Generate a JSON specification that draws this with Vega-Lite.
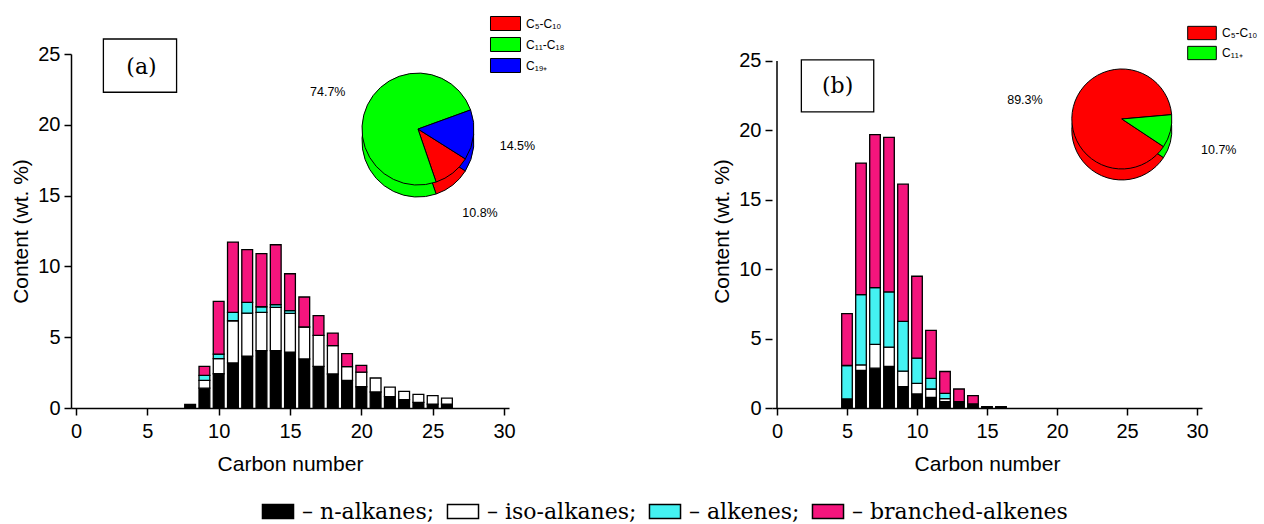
{
  "$schema": "https://vega.github.io/schema/vega-lite/v6.json",
  "padding": {"left": 10, "top": 12, "right": 0, "bottom": 0},
  "background": "white",
  "config": {
    "view": {"stroke": null},
    "font": "Liberation Sans",
    "axis": {
      "domainColor": "black", "domainWidth": 1.5, "tickColor": "black", "tickWidth": 1.5,
      "labelColor": "black", "labelFont": "Liberation Sans", "labelFontSize": 20,
      "titleFont": "Liberation Sans", "titleFontSize": 21, "titleFontWeight": "normal", "titleColor": "black",
      "grid": false, "labelFlush": false
    }
  },
  "datasets": {
    "bars": [
      {"p": "a", "c": 8, "t": "n-alkanes", "k": 1, "v": 0.25},
      {"p": "a", "c": 9, "t": "n-alkanes", "k": 1, "v": 1.4},
      {"p": "a", "c": 9, "t": "iso-alkanes", "k": 2, "v": 0.55},
      {"p": "a", "c": 9, "t": "alkenes", "k": 3, "v": 0.35},
      {"p": "a", "c": 9, "t": "branched-alkenes", "k": 4, "v": 0.64},
      {"p": "a", "c": 10, "t": "n-alkanes", "k": 1, "v": 2.42},
      {"p": "a", "c": 10, "t": "iso-alkanes", "k": 2, "v": 1.06},
      {"p": "a", "c": 10, "t": "alkenes", "k": 3, "v": 0.33},
      {"p": "a", "c": 10, "t": "branched-alkenes", "k": 4, "v": 3.72},
      {"p": "a", "c": 11, "t": "n-alkanes", "k": 1, "v": 3.18},
      {"p": "a", "c": 11, "t": "iso-alkanes", "k": 2, "v": 2.98},
      {"p": "a", "c": 11, "t": "alkenes", "k": 3, "v": 0.59},
      {"p": "a", "c": 11, "t": "branched-alkenes", "k": 4, "v": 4.97},
      {"p": "a", "c": 12, "t": "n-alkanes", "k": 1, "v": 3.67},
      {"p": "a", "c": 12, "t": "iso-alkanes", "k": 2, "v": 3.03},
      {"p": "a", "c": 12, "t": "alkenes", "k": 3, "v": 0.76},
      {"p": "a", "c": 12, "t": "branched-alkenes", "k": 4, "v": 3.72},
      {"p": "a", "c": 13, "t": "n-alkanes", "k": 1, "v": 4.05},
      {"p": "a", "c": 13, "t": "iso-alkanes", "k": 2, "v": 2.7},
      {"p": "a", "c": 13, "t": "alkenes", "k": 3, "v": 0.4},
      {"p": "a", "c": 13, "t": "branched-alkenes", "k": 4, "v": 3.75},
      {"p": "a", "c": 14, "t": "n-alkanes", "k": 1, "v": 4.05},
      {"p": "a", "c": 14, "t": "iso-alkanes", "k": 2, "v": 3.05},
      {"p": "a", "c": 14, "t": "alkenes", "k": 3, "v": 0.2},
      {"p": "a", "c": 14, "t": "branched-alkenes", "k": 4, "v": 4.23},
      {"p": "a", "c": 15, "t": "n-alkanes", "k": 1, "v": 3.95},
      {"p": "a", "c": 15, "t": "iso-alkanes", "k": 2, "v": 2.73},
      {"p": "a", "c": 15, "t": "alkenes", "k": 3, "v": 0.19},
      {"p": "a", "c": 15, "t": "branched-alkenes", "k": 4, "v": 2.61},
      {"p": "a", "c": 16, "t": "n-alkanes", "k": 1, "v": 3.46},
      {"p": "a", "c": 16, "t": "iso-alkanes", "k": 2, "v": 2.26},
      {"p": "a", "c": 16, "t": "branched-alkenes", "k": 4, "v": 2.12},
      {"p": "a", "c": 17, "t": "n-alkanes", "k": 1, "v": 2.94},
      {"p": "a", "c": 17, "t": "iso-alkanes", "k": 2, "v": 2.19},
      {"p": "a", "c": 17, "t": "branched-alkenes", "k": 4, "v": 1.39},
      {"p": "a", "c": 18, "t": "n-alkanes", "k": 1, "v": 2.4},
      {"p": "a", "c": 18, "t": "iso-alkanes", "k": 2, "v": 2.0},
      {"p": "a", "c": 18, "t": "branched-alkenes", "k": 4, "v": 0.89},
      {"p": "a", "c": 19, "t": "n-alkanes", "k": 1, "v": 1.95},
      {"p": "a", "c": 19, "t": "iso-alkanes", "k": 2, "v": 0.97},
      {"p": "a", "c": 19, "t": "branched-alkenes", "k": 4, "v": 0.92},
      {"p": "a", "c": 20, "t": "n-alkanes", "k": 1, "v": 1.5},
      {"p": "a", "c": 20, "t": "iso-alkanes", "k": 2, "v": 1.04},
      {"p": "a", "c": 20, "t": "branched-alkenes", "k": 4, "v": 0.47},
      {"p": "a", "c": 21, "t": "n-alkanes", "k": 1, "v": 1.13},
      {"p": "a", "c": 21, "t": "iso-alkanes", "k": 2, "v": 0.99},
      {"p": "a", "c": 22, "t": "n-alkanes", "k": 1, "v": 0.8},
      {"p": "a", "c": 22, "t": "iso-alkanes", "k": 2, "v": 0.68},
      {"p": "a", "c": 23, "t": "n-alkanes", "k": 1, "v": 0.59},
      {"p": "a", "c": 23, "t": "iso-alkanes", "k": 2, "v": 0.59},
      {"p": "a", "c": 24, "t": "n-alkanes", "k": 1, "v": 0.4},
      {"p": "a", "c": 24, "t": "iso-alkanes", "k": 2, "v": 0.56},
      {"p": "a", "c": 25, "t": "n-alkanes", "k": 1, "v": 0.28},
      {"p": "a", "c": 25, "t": "iso-alkanes", "k": 2, "v": 0.59},
      {"p": "a", "c": 26, "t": "n-alkanes", "k": 1, "v": 0.28},
      {"p": "a", "c": 26, "t": "iso-alkanes", "k": 2, "v": 0.42},
      {"p": "b", "c": 5, "t": "n-alkanes", "k": 1, "v": 0.65},
      {"p": "b", "c": 5, "t": "alkenes", "k": 3, "v": 2.41},
      {"p": "b", "c": 5, "t": "branched-alkenes", "k": 4, "v": 3.74},
      {"p": "b", "c": 6, "t": "n-alkanes", "k": 1, "v": 2.7},
      {"p": "b", "c": 6, "t": "iso-alkanes", "k": 2, "v": 0.4},
      {"p": "b", "c": 6, "t": "alkenes", "k": 3, "v": 5.07},
      {"p": "b", "c": 6, "t": "branched-alkenes", "k": 4, "v": 9.47},
      {"p": "b", "c": 7, "t": "n-alkanes", "k": 1, "v": 2.87},
      {"p": "b", "c": 7, "t": "iso-alkanes", "k": 2, "v": 1.71},
      {"p": "b", "c": 7, "t": "alkenes", "k": 3, "v": 4.09},
      {"p": "b", "c": 7, "t": "branched-alkenes", "k": 4, "v": 11.02},
      {"p": "b", "c": 8, "t": "n-alkanes", "k": 1, "v": 2.99},
      {"p": "b", "c": 8, "t": "iso-alkanes", "k": 2, "v": 1.4},
      {"p": "b", "c": 8, "t": "alkenes", "k": 3, "v": 3.97},
      {"p": "b", "c": 8, "t": "branched-alkenes", "k": 4, "v": 11.13},
      {"p": "b", "c": 9, "t": "n-alkanes", "k": 1, "v": 1.54},
      {"p": "b", "c": 9, "t": "iso-alkanes", "k": 2, "v": 1.11},
      {"p": "b", "c": 9, "t": "alkenes", "k": 3, "v": 3.59},
      {"p": "b", "c": 9, "t": "branched-alkenes", "k": 4, "v": 9.88},
      {"p": "b", "c": 10, "t": "n-alkanes", "k": 1, "v": 1.01},
      {"p": "b", "c": 10, "t": "iso-alkanes", "k": 2, "v": 0.77},
      {"p": "b", "c": 10, "t": "alkenes", "k": 3, "v": 1.81},
      {"p": "b", "c": 10, "t": "branched-alkenes", "k": 4, "v": 5.9},
      {"p": "b", "c": 11, "t": "n-alkanes", "k": 1, "v": 0.77},
      {"p": "b", "c": 11, "t": "iso-alkanes", "k": 2, "v": 0.6},
      {"p": "b", "c": 11, "t": "alkenes", "k": 3, "v": 0.77},
      {"p": "b", "c": 11, "t": "branched-alkenes", "k": 4, "v": 3.45},
      {"p": "b", "c": 12, "t": "n-alkanes", "k": 1, "v": 0.46},
      {"p": "b", "c": 12, "t": "iso-alkanes", "k": 2, "v": 0.21},
      {"p": "b", "c": 12, "t": "alkenes", "k": 3, "v": 0.39},
      {"p": "b", "c": 12, "t": "branched-alkenes", "k": 4, "v": 1.57},
      {"p": "b", "c": 13, "t": "n-alkanes", "k": 1, "v": 0.36},
      {"p": "b", "c": 13, "t": "iso-alkanes", "k": 2, "v": 0.1},
      {"p": "b", "c": 13, "t": "branched-alkenes", "k": 4, "v": 0.91},
      {"p": "b", "c": 14, "t": "n-alkanes", "k": 1, "v": 0.3},
      {"p": "b", "c": 14, "t": "branched-alkenes", "k": 4, "v": 0.59},
      {"p": "b", "c": 15, "t": "n-alkanes", "k": 1, "v": 0.1},
      {"p": "b", "c": 16, "t": "n-alkanes", "k": 1, "v": 0.1}
    ],
    "pies": [
      {"p": "a", "g": "C₅-C₁₀", "f": 0.108, "o": 2},
      {"p": "a", "g": "C₁₁-C₁₈", "f": 0.747, "o": 3},
      {"p": "a", "g": "C₁₉₊", "f": 0.145, "o": 1},
      {"p": "b", "g": "C₅-C₁₀", "f": 0.893, "o": 2},
      {"p": "b", "g": "C₁₁₊", "f": 0.107, "o": 1}
    ]
  },
  "spacing": 146,
  "resolve": {
    "scale": {"color": "independent", "theta": "independent", "fill": "shared"},
    "legend": {"color": "independent", "fill": "shared"}
  },
  "hconcat": [
    {
      "width": 438,
      "height": 354,
      "layer": [
        {
          "data": {"name": "bars"},
          "transform": [{"filter": "datum.p === 'a'"}],
          "mark": {"type": "bar", "width": 10.8, "stroke": "black", "strokeWidth": 1.3},
          "encoding": {
            "x": {
              "field": "c", "type": "quantitative",
              "scale": {"domain": [0, 30], "nice": false, "zero": false},
              "axis": {
                "title": "Carbon number",
                "values": [0, 2.5, 5, 7.5, 10, 12.5, 15, 17.5, 20, 22.5, 25, 27.5, 30],
                "labelExpr": "datum.value % 5 === 0 ? datum.label : ''",
                "tickSize": {"condition": {"test": "datum.value % 5 === 0", "value": 7}, "value": 4},
                "labelPadding": 6, "titlePadding": 12, "labelOverlap": false
              }
            },
            "y": {
              "field": "v", "type": "quantitative", "stack": "zero",
              "scale": {"domain": [0, 25], "nice": false},
              "axis": {
                "title": "Content (wt. %)",
                "values": [0, 2.5, 5, 7.5, 10, 12.5, 15, 17.5, 20, 22.5, 25],
                "labelExpr": "datum.value % 5 === 0 ? datum.label : ''",
                "tickSize": {"condition": {"test": "datum.value % 5 === 0", "value": 7}, "value": 4},
                "labelPadding": 4, "titlePadding": 6, "labelOverlap": false
              }
            },
            "fill": {
              "field": "t", "type": "nominal",
              "scale": {"domain": ["n-alkanes", "iso-alkanes", "alkenes", "branched-alkenes"], "range": ["#000000", "#ffffff", "#44f2f2", "#f5157d"]},
              "legend": {
                "orient": "none", "legendX": 196, "legendY": 446.5, "direction": "horizontal", "title": null,
                "symbolType": "M-2.07,-0.93H2.07V0.93H-2.07Z", "symbolSize": 225,
                "symbolStrokeColor": "black", "symbolStrokeWidth": 1.5,
                "labelFont": "DejaVu Serif", "labelFontSize": 22, "labelColor": "black",
                "labelOffset": 13, "columnPadding": 9, "labelLimit": 400,
                "labelExpr": "datum.label === 'branched-alkenes' ? '– ' + datum.label : '– ' + datum.label + ';'"
              }
            },
            "order": {"field": "k", "type": "quantitative"}
          }
        },
        {
          "data": {"values": [{}]},
          "mark": {"type": "rect", "fill": "white", "stroke": "black", "strokeWidth": 1.3},
          "encoding": {"x": {"datum": 1.92}, "x2": {"datum": 7.05}, "y": {"datum": 26.06}, "y2": {"datum": 22.3}}
        },
        {
          "data": {"values": [{}]},
          "mark": {"type": "text", "text": "(a)", "font": "DejaVu Serif", "fontSize": 22, "align": "center", "baseline": "middle", "color": "black"},
          "encoding": {"x": {"datum": 4.59}, "y": {"datum": 24.1}}
        },
        {
          "data": {"name": "pies"},
          "transform": [{"filter": "datum.p === 'a'"}],
          "mark": {"type": "arc", "radius": 56, "yOffset": 12, "stroke": "black", "strokeWidth": 1},
          "encoding": {
            "theta": {"field": "f", "type": "quantitative", "stack": true, "scale": {"domain": [0, 1], "range": [1.222, 7.505]}},
            "color": {"field": "g", "type": "nominal"},
            "order": {"field": "o", "type": "quantitative"},
            "x": {"datum": 23.97},
            "y": {"datum": 19.7}
          }
        },
        {
          "data": {"name": "pies"},
          "transform": [{"filter": "datum.p === 'a'"}],
          "mark": {"type": "arc", "radius": 56, "stroke": "black", "strokeWidth": 1},
          "encoding": {
            "theta": {"field": "f", "type": "quantitative", "stack": true, "scale": {"domain": [0, 1], "range": [1.222, 7.505]}},
            "color": {
              "field": "g", "type": "nominal",
              "scale": {"domain": ["C₅-C₁₀", "C₁₁-C₁₈", "C₁₉₊"], "range": ["#ff0000", "#00ff00", "#0000ff"]},
              "legend": {
                "orient": "none", "legendX": 423.5, "legendY": -41.5, "title": null,
                "symbolType": "M-1.43,-0.667H1.43V0.667H-1.43Z", "symbolSize": 441,
                "symbolStrokeColor": "black", "symbolStrokeWidth": 1,
                "labelFont": "Liberation Sans", "labelFontSize": 12, "labelColor": "black",
                "labelOffset": 9.5, "rowPadding": 0
              }
            },
            "order": {"field": "o", "type": "quantitative"},
            "x": {"datum": 23.97},
            "y": {"datum": 19.7}
          }
        },
        {
          "data": {"name": "pies"},
          "transform": [{"filter": "datum.p === 'a'"}],
          "mark": {"type": "text", "radius": 100, "yOffset": 6, "font": "Liberation Sans", "fontSize": 12.5, "color": "black"},
          "encoding": {
            "theta": {"field": "f", "type": "quantitative", "stack": true, "scale": {"domain": [0, 1], "range": [1.222, 7.505]}},
            "detail": {"field": "g", "type": "nominal"},
            "order": {"field": "o", "type": "quantitative"},
            "text": {"field": "f", "type": "quantitative", "format": ".1%"},
            "x": {"datum": 23.97},
            "y": {"datum": 19.7}
          }
        }
      ]
    },
    {
      "width": 430,
      "height": 354,
      "layer": [
        {
          "data": {"name": "bars"},
          "transform": [{"filter": "datum.p === 'b'"}],
          "mark": {"type": "bar", "width": 10.6, "stroke": "black", "strokeWidth": 1.3},
          "encoding": {
            "x": {
              "field": "c", "type": "quantitative",
              "scale": {"domain": [0, 30], "nice": false, "zero": false},
              "axis": {
                "title": "Carbon number",
                "values": [0, 2.5, 5, 7.5, 10, 12.5, 15, 17.5, 20, 22.5, 25, 27.5, 30],
                "labelExpr": "datum.value % 5 === 0 ? datum.label : ''",
                "tickSize": {"condition": {"test": "datum.value % 5 === 0", "value": 7}, "value": 4},
                "labelPadding": 6, "titlePadding": 12, "labelOverlap": false
              }
            },
            "y": {
              "field": "v", "type": "quantitative", "stack": "zero",
              "scale": {"domain": [0, 25.5], "nice": false},
              "axis": {
                "title": "Content (wt. %)", "domain": false,
                "values": [0, 2.5, 5, 7.5, 10, 12.5, 15, 17.5, 20, 22.5, 25],
                "labelExpr": "datum.value % 5 === 0 ? datum.label : ''",
                "tickSize": {"condition": {"test": "datum.value % 5 === 0", "value": 7}, "value": 4},
                "labelPadding": 4, "titlePadding": 6, "labelOverlap": false
              }
            },
            "fill": {
              "field": "t", "type": "nominal",
              "scale": {"domain": ["n-alkanes", "iso-alkanes", "alkenes", "branched-alkenes"], "range": ["#000000", "#ffffff", "#44f2f2", "#f5157d"]},
              "legend": {
                "orient": "none", "legendX": 196, "legendY": 446.5, "direction": "horizontal", "title": null,
                "symbolType": "M-2.07,-0.93H2.07V0.93H-2.07Z", "symbolSize": 225,
                "symbolStrokeColor": "black", "symbolStrokeWidth": 1.5,
                "labelFont": "DejaVu Serif", "labelFontSize": 22, "labelColor": "black",
                "labelOffset": 13, "columnPadding": 9, "labelLimit": 400,
                "labelExpr": "datum.label === 'branched-alkenes' ? '– ' + datum.label : '– ' + datum.label + ';'"
              }
            },
            "order": {"field": "k", "type": "quantitative"}
          }
        },
        {
          "data": {"values": [{}]},
          "mark": {"type": "rule", "stroke": "black", "strokeWidth": 1.5},
          "encoding": {"x": {"datum": 0}, "y": {"datum": 0}, "y2": {"datum": 25}}
        },
        {
          "data": {"values": [{}]},
          "mark": {"type": "rect", "fill": "white", "stroke": "black", "strokeWidth": 1.3},
          "encoding": {"x": {"datum": 1.74}, "x2": {"datum": 6.91}, "y": {"datum": 25.07}, "y2": {"datum": 21.33}}
        },
        {
          "data": {"values": [{}]},
          "mark": {"type": "text", "text": "(b)", "font": "DejaVu Serif", "fontSize": 22, "align": "center", "baseline": "middle", "color": "black"},
          "encoding": {"x": {"datum": 4.33}, "y": {"datum": 23.2}}
        },
        {
          "data": {"name": "pies"},
          "transform": [{"filter": "datum.p === 'b'"}],
          "mark": {"type": "arc", "radius": 50, "yOffset": 11, "stroke": "black", "strokeWidth": 1},
          "encoding": {
            "theta": {"field": "f", "type": "quantitative", "stack": true, "scale": {"domain": [0, 1], "range": [1.484, 7.767]}},
            "color": {"field": "g", "type": "nominal"},
            "order": {"field": "o", "type": "quantitative"},
            "x": {"datum": 24.63},
            "y": {"datum": 20.82}
          }
        },
        {
          "data": {"name": "pies"},
          "transform": [{"filter": "datum.p === 'b'"}],
          "mark": {"type": "arc", "radius": 50, "stroke": "black", "strokeWidth": 1},
          "encoding": {
            "theta": {"field": "f", "type": "quantitative", "stack": true, "scale": {"domain": [0, 1], "range": [1.484, 7.767]}},
            "color": {
              "field": "g", "type": "nominal",
              "scale": {"domain": ["C₅-C₁₀", "C₁₁₊"], "range": ["#ff0000", "#00ff00"]},
              "legend": {
                "orient": "none", "legendX": 419.5, "legendY": -31.5, "title": null,
                "symbolType": "M-1.43,-0.667H1.43V0.667H-1.43Z", "symbolSize": 400,
                "symbolStrokeColor": "black", "symbolStrokeWidth": 1,
                "labelFont": "Liberation Sans", "labelFontSize": 12, "labelColor": "black",
                "labelOffset": 9.5, "rowPadding": 0
              }
            },
            "order": {"field": "o", "type": "quantitative"},
            "x": {"datum": 24.63},
            "y": {"datum": 20.82}
          }
        },
        {
          "data": {"name": "pies"},
          "transform": [{"filter": "datum.p === 'b'"}],
          "mark": {"type": "text", "radius": 100, "yOffset": 6, "font": "Liberation Sans", "fontSize": 12.5, "color": "black"},
          "encoding": {
            "theta": {"field": "f", "type": "quantitative", "stack": true, "scale": {"domain": [0, 1], "range": [1.484, 7.767]}},
            "detail": {"field": "g", "type": "nominal"},
            "order": {"field": "o", "type": "quantitative"},
            "text": {"field": "f", "type": "quantitative", "format": ".1%"},
            "x": {"datum": 24.63},
            "y": {"datum": 20.82}
          }
        }
      ]
    }
  ]
}
